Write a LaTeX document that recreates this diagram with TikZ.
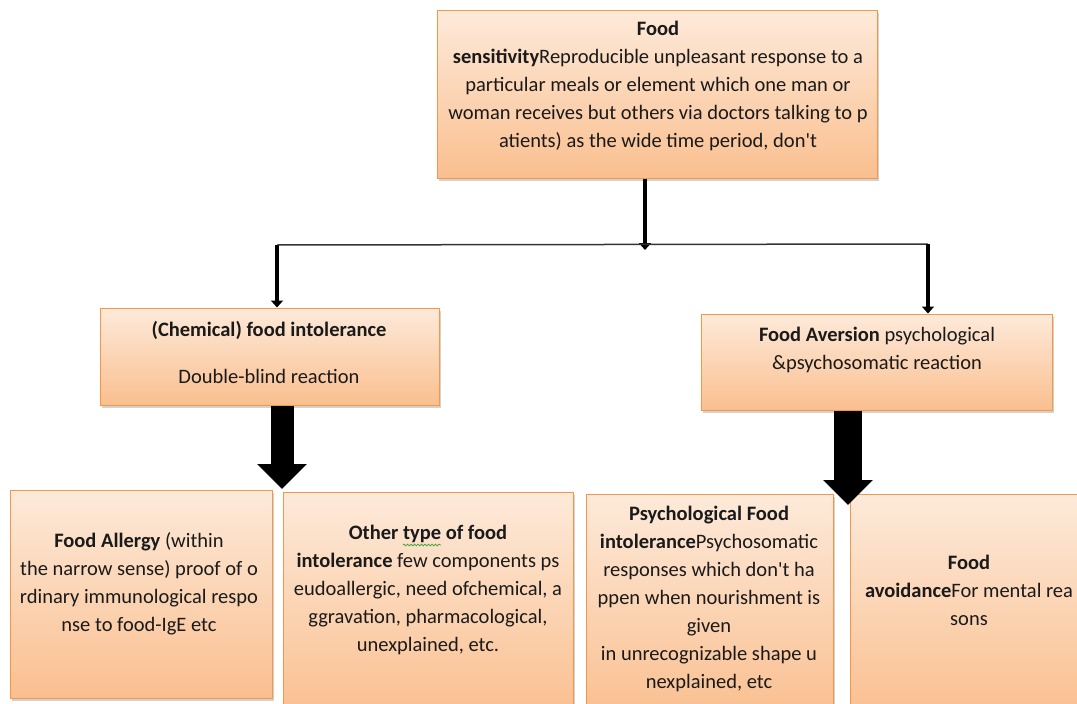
\documentclass[tikz,border=0pt]{standalone}
\usepackage{fontspec}
\setmainfont{Carlito}
\usetikzlibrary{arrows.meta,shadows,decorations.pathmorphing}

\definecolor{boxedge}{HTML}{F79646}
\definecolor{boxtop}{HTML}{FDEADA}
\definecolor{boxbottom}{HTML}{FABF8F}
\definecolor{inkgray}{HTML}{1A1A1A}
\definecolor{spellgreen}{HTML}{3CA03C}

\tikzset{
  box/.style={draw=boxedge, line width=1pt, top color=boxtop, bottom color=boxbottom,
    drop shadow={shadow xshift=2pt, shadow yshift=-3pt, opacity=0.35, fill=gray},
    inner sep=0pt},
  boxtext/.style={align=center, text=inkgray, font=\fontsize{20.5}{28}\selectfont, inner sep=0pt},
  thin arrow/.style={line width=3.5pt, -{Triangle[width=12pt,length=7pt]}},
  fat arrow/.style={line width=23pt, -{Triangle[width=48pt,length=25pt]}},
}

\begin{document}
\begin{tikzpicture}[x=1pt,y=-1pt]
    \useasboundingbox (0,0) rectangle (1077,704);
    \clip (0,0) rectangle (1077,704);
    \fill[white] (0,0) rectangle (1077,704);

    % boxes
    \node[box, minimum width=440pt, minimum height=168pt] (sens) at (657,94) {};
    \node[box, minimum width=339pt, minimum height=97pt] (chem) at (269.5,356.5) {};
    \node[box, minimum width=351pt, minimum height=96pt] (aver) at (876.5,362) {};
    \node[box, minimum width=262pt, minimum height=208pt] (allergy) at (141,594) {};
    \node[box, minimum width=290pt, minimum height=226pt] (other) at (428,605) {};
    \node[box, minimum width=247pt, minimum height=224pt] (psych) at (709.5,606) {};
    \node[box, minimum width=240pt, minimum height=224pt] (avoid) at (970,606) {};

    % texts
    \node[boxtext] (sens-t) at (658,86) {\textbf{Food}\\
      \textbf{sensitivity}Reproducible unpleasant response to a\\
      particular meals or element which one man or\\
      woman receives but others via doctors talking to p\\
      atients) as the wide time period, don\textquotesingle t};
    \node[boxtext] (chem-t) at (269,352) {\textbf{(Chemical) food intolerance}\\[19pt]
      Double-blind reaction};
    \node[boxtext] (aver-t) at (877,350) {\textbf{Food Aversion} psychological\\
      \&psychosomatic reaction};
    \node[boxtext] (allergy-t) at (139,584) {\textbf{Food Allergy} (within\\
      the narrow sense) proof of o\\
      rdinary immunological respo\\
      nse to food-IgE etc};
    \node[boxtext] (other-t) at (428,590) {\textbf{Other type of food}\\
      \textbf{intolerance} few components ps\\
      eudoallergic, need ofchemical, a\\
      ggravation, pharmacological,\\
      unexplained, etc.};
    \node[boxtext] (psych-t) at (709,599) {\textbf{Psychological Food}\\
      \textbf{intolerance}Psychosomatic\\
      responses which don\textquotesingle t ha\\
      ppen when nourishment is\\
      given\\
      in unrecognizable shape u\\
      nexplained, etc};
    \node[boxtext] (avoid-t) at (969,590) {\textbf{Food}\\
      \textbf{avoidance}For mental rea\\
      sons};
    % spell-check mark under "type"
    \draw[spellgreen, line width=0.7pt, decorate, decoration={snake, amplitude=0.9pt, segment length=3.5pt}] (403,545) -- (441,545);

    % connectors
    \coordinate (split) at (645,250);
    \coordinate (chem-in) at (277,245);
    \coordinate (aver-in) at (928,244);
    \draw[thin arrow] (split |- sens.south) -- (split);
    \draw[line width=1.5pt, black!80] (chem-in) -- (aver-in);
    \draw[thin arrow] (chem-in) -- (chem-in |- chem.north);
    \draw[thin arrow] (aver-in) -- (aver-in |- aver.north);

    \coordinate (chem-tip) at (282,489);
    \coordinate (aver-tip) at (848,505);
    \draw[fat arrow] (chem-tip |- chem.south) -- (chem-tip);
    \draw[fat arrow, line width=28pt] (aver-tip |- aver.south) -- (aver-tip);
\end{tikzpicture}
\end{document}
